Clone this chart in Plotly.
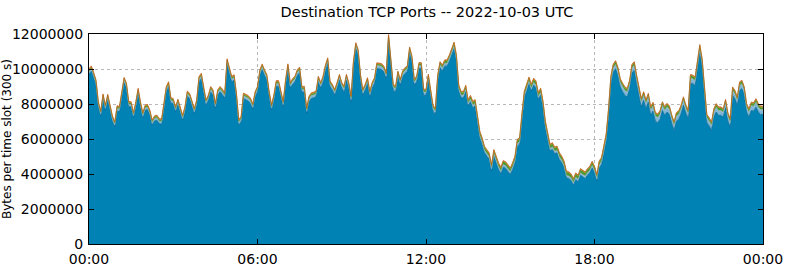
import pandas as pd
import plotly.graph_objects as go

# Main layer (bytes per 5-minute slot), 288 slots starting 2022-10-03 00:00 UTC
main_bytes = [
    9700000, 9870000, 9500000, 9070000, 7830000, 7300000, 8270000, 7640000, 8250000, 7640000,
    7030000, 6690000, 7600000, 7550000, 8310000, 9220000, 8900000, 7830000, 7830000, 7220000,
    7830000, 8600000, 7830000, 7220000, 7640000, 7680000, 7360000, 6790000, 7030000, 7070000,
    6880000, 6840000, 7740000, 8690000, 8980000, 8060000, 8020000, 7550000, 7980000, 7450000,
    7070000, 7550000, 8440000, 8310000, 7930000, 7450000, 7930000, 9260000, 9450000, 8790000,
    7930000, 8210000, 8690000, 8500000, 7740000, 8500000, 8690000, 8540000, 8310000, 10270000,
    9830000, 9260000, 9360000, 8310000, 6790000, 6980000, 8310000, 8250000, 8170000, 8020000,
    7700000, 8400000, 8690000, 9640000,
    9970000, 9640000, 9360000, 8400000, 7640000, 8210000, 9010000, 9010000, 8400000, 7830000,
    9070000, 9970000, 8900000, 9130000, 9260000, 9640000, 9780000, 8650000, 8690000, 7450000,
    8120000, 8310000, 8350000, 8400000, 9260000, 8900000, 9260000, 9890000, 10310000, 8980000,
    8790000, 8500000, 8900000, 9360000, 8900000, 8690000, 9360000, 8900000, 8120000, 10120000,
    11170000, 10790000, 9360000, 8500000, 8790000, 9170000, 8400000, 8900000, 9170000, 10020000,
    10000000, 9970000, 9830000, 9450000, 11640000, 10160000, 8790000, 8690000, 9550000, 9070000,
    9550000, 9740000, 9830000, 10920000, 10400000, 9070000, 9260000, 10020000, 10020000, 8500000,
    8500000, 9360000,
    8350000, 7590000, 7400000, 9310000, 10070000, 9880000, 10160000, 10160000, 10450000, 10830000,
    11170000, 10450000, 8740000, 8350000, 8350000, 8700000, 7880000, 8120000, 7780000, 7880000,
    7080000, 6070000, 5690000, 5210000, 5020000, 4830000, 4160000, 5020000, 4640000, 4260000,
    4010000, 4390000, 4320000, 4160000, 3970000, 4260000, 4640000, 5590000, 5690000, 7080000,
    8350000, 8740000, 9150000, 8740000, 9080000, 8930000, 8260000, 8510000, 7780000, 6640000,
    5880000, 5310000, 5400000, 5150000, 5210000, 4830000, 4640000, 4350000, 3780000, 3740000,
    3630000, 3360000, 3690000, 3550000, 3930000, 3820000, 3740000, 3930000, 4070000, 4350000,
    4070000, 3590000, 4350000,
    4540000, 5120000, 5880000, 7300000, 9160000, 9820000, 10010000, 9630000, 8970000, 8700000,
    8490000, 8400000, 8870000, 9770000, 9920000, 9160000, 8490000, 7820000, 8200000, 7730000,
    8110000, 7350000, 7590000, 7020000, 6930000, 7120000, 7630000, 7350000, 7540000, 7400000,
    6890000, 6490000, 7020000, 7120000, 7440000, 7920000, 7480000, 7160000, 9190000, 9160000,
    9060000, 10110000, 10910000, 10110000, 8400000, 6930000, 6740000, 6490000, 7250000, 7540000,
    7350000, 7350000, 7250000, 7780000, 7020000, 6680000, 8490000, 8300000, 7920000, 8780000,
    8870000, 8490000, 7540000, 7250000, 7630000, 7590000, 7820000, 7540000, 7400000,
]

# Smaller port layers, estimated at each hour 00:00 .. 24:00
hour_labels = [f"2022-10-03 {h:02d}:00" for h in range(24)] + ["2022-10-04 00:00"]
lightblue_bytes = [110000, 110000, 100000, 100000, 110000, 120000, 120000, 130000, 130000, 140000,
                   140000, 140000, 140000, 130000, 110000, 120000, 120000, 100000, 110000, 220000,
                   240000, 230000, 220000, 220000, 220000]
steel_bytes = [40000, 40000, 40000, 40000, 40000, 40000, 40000, 40000, 40000, 40000,
               40000, 40000, 40000, 40000, 40000, 40000, 40000, 40000, 40000, 60000,
               60000, 60000, 60000, 60000, 60000]
green_bytes = [90000, 90000, 90000, 90000, 90000, 90000, 90000, 90000, 90000, 90000,
               90000, 90000, 100000, 130000, 160000, 160000, 170000, 180000, 160000, 150000,
               140000, 140000, 140000, 140000, 140000]
orange_bytes = [45000, 45000, 45000, 45000, 45000, 45000, 45000, 45000, 45000, 45000,
                45000, 45000, 45000, 45000, 45000, 45000, 45000, 45000, 45000, 45000,
                45000, 45000, 45000, 45000, 45000]
brown_bytes = [25000, 25000, 25000, 25000, 25000, 25000, 25000, 25000, 25000, 25000,
               25000, 25000, 25000, 25000, 25000, 25000, 25000, 25000, 25000, 25000,
               25000, 25000, 25000, 25000, 25000]

slot_times = pd.date_range("2022-10-03 00:00", periods=len(main_bytes), freq="5min")

fig = go.Figure()
fig.add_trace(go.Scatter(x=slot_times, y=main_bytes, stackgroup="s", stackgaps="interpolate",
                         mode="lines", line=dict(color="#006a98", width=0.8),
                         fillcolor="#0082b4", name="main"))
layers = [
    ("lightblue", lightblue_bytes, "#7fb6d8", "#74aed2"),
    ("steel", steel_bytes, "#9cb4c2", "#90aabb"),
    ("green", green_bytes, "#4e9a2c", "#46922a"),
    ("orange", orange_bytes, "#dc8c1c", "#d48414"),
    ("brown", brown_bytes, "#c2561a", "#b85018"),
]
for name, vals, fillc, linec in layers:
    fig.add_trace(go.Scatter(x=hour_labels, y=vals, stackgroup="s", mode="lines",
                             line=dict(color=linec, width=0.5), fillcolor=fillc, name=name))

axis_common = dict(showline=True, linecolor="black", linewidth=1, mirror="allticks",
                   ticks="inside", ticklen=5, tickcolor="black", automargin=False,
                   showgrid=True, gridcolor="#b8b8b8", griddash="dot", gridwidth=1,
                   zeroline=False, tickfont=dict(size=14, color="black"))

fig.update_layout(
    width=785, height=268,
    margin=dict(l=89, r=22, t=34, b=24),
    paper_bgcolor="white", plot_bgcolor="white",
    font=dict(family="DejaVu Sans", size=14, color="black"),
    showlegend=False,
    title=dict(text="Destination TCP Ports -- 2022-10-03 UTC", x=427 / 785, xanchor="center",
               y=1 - 12 / 268, yanchor="middle", font=dict(size=14.5)),
    xaxis=dict(axis_common, range=["2022-10-03 00:00", "2022-10-04 00:00"],
               tick0="2022-10-03 00:00", dtick=6 * 3600 * 1000, tickformat="%H:%M",
               ticklabelstandoff=2),
    yaxis=dict(axis_common, range=[0, 12000000], dtick=2000000, tickformat="d",
               ticklabelstandoff=2,
               title=dict(text="Bytes per time slot (300 s)", font=dict(size=12), standoff=4)),
)

fig.write_html("out.html")
